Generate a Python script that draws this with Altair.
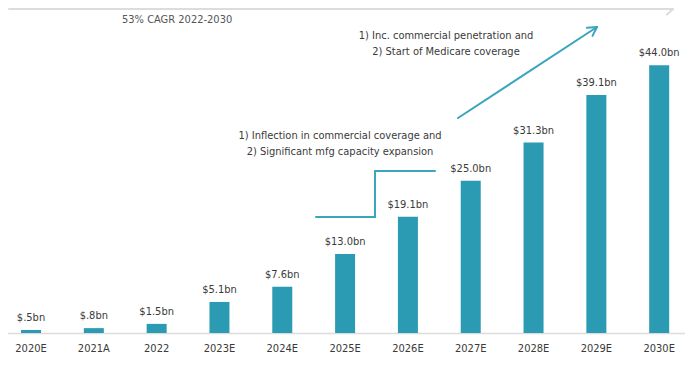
import altair as alt
import pandas as pd

# ---- data ----
years = ["2020E", "2021A", "2022", "2023E", "2024E", "2025E", "2026E", "2027E", "2028E", "2029E", "2030E"]
values = [0.5, 0.8, 1.5, 5.1, 7.6, 13.0, 19.1, 25.0, 31.3, 39.1, 44.0]
labels = ["$.5bn", "$.8bn", "$1.5bn", "$5.1bn", "$7.6bn", "$13.0bn", "$19.1bn",
          "$25.0bn", "$31.3bn", "$39.1bn", "$44.0bn"]
cagr_text = ["53% CAGR 2022-2030"]
note_low = ["1) Inflection in commercial coverage and", "2) Significant mfg capacity expansion"]
note_high = ["1) Inc. commercial penetration and", "2) Start of Medicare coverage"]

df = pd.DataFrame({"year": years, "value": values, "label": labels})

FONT = "Liberation Sans Narrow, DejaVu Sans Condensed, sans-serif"
FS = 11
BAR = "#2b9ab3"
LINE = "#3aa5bd"
TXT = "#3a3a3a"
GRAY = "#dcdcdc"

W, H = 677, 325

x = alt.X("year:N", sort=years, title=None,
          scale=alt.Scale(range=[-8.4, 682.6]),
          axis=alt.Axis(labelAngle=0, ticks=False, labelPadding=9, labelFont=FONT,
                        labelFontSize=FS, labelColor=TXT, domainColor=GRAY,
                        domainWidth=1.5, grid=False))
y = alt.Y("value:Q", title=None, scale=alt.Scale(domain=[0, 53.4], nice=False, zero=True), axis=None)

base = alt.Chart(df)
bars = base.mark_bar(size=20, color=BAR).encode(x=x, y=y)
vals = base.mark_text(baseline="middle", dy=-12, font=FONT, fontSize=FS, color=TXT).encode(
    x=alt.X("year:N", sort=years), y="value:Q", text="label:N")

one = pd.DataFrame({"k": [0]})


def seg(x1, y1, x2, y2, color, width):
    return alt.Chart(one).mark_rule(color=color, strokeWidth=width, strokeCap="round").encode(
        x=alt.value(x1), y=alt.value(y1), x2=alt.value(x2), y2=alt.value(y2))


def txt(s, xx, yy, color=TXT, align="center"):
    return alt.Chart(pd.DataFrame({"t": [s]})).mark_text(
        font=FONT, fontSize=FS, color=color, align=align, baseline="middle").encode(
        x=alt.value(xx), y=alt.value(yy), text="t:N")


layers = [bars, vals]
# top growth arrow
layers += [seg(1, 1, 664, 1, GRAY, 2),
           seg(659, -4.5, 665, 1, GRAY, 2),
           seg(665, 1, 659, 6.5, GRAY, 2)]
layers.append(txt(cagr_text[0], 114, 12, color="#555555", align="left"))
# step line
layers += [seg(308, 209, 367, 209, LINE, 2),
           seg(367, 209, 367, 163, LINE, 2),
           seg(367, 163, 427, 163, LINE, 2)]
layers += [txt(note_low[0], 332, 128), txt(note_low[1], 332, 144)]
# rising arrow
layers += [seg(450, 110, 589, 19, LINE, 2),
           seg(589, 19, 579, 19.8, LINE, 2),
           seg(589, 19, 584.5, 27.9, LINE, 2)]
layers += [txt(note_high[0], 438, 28), txt(note_high[1], 438, 44)]

chart = alt.layer(*layers).properties(
    width=W, height=H,
    autosize=alt.AutoSizeParams(type="none"),
    padding={"left": 0, "top": 0, "right": 0, "bottom": 25},
).configure(background="white").configure_view(stroke=None, strokeWidth=0)

chart.save("out.html", embed_options={"renderer": "svg", "actions": False})
